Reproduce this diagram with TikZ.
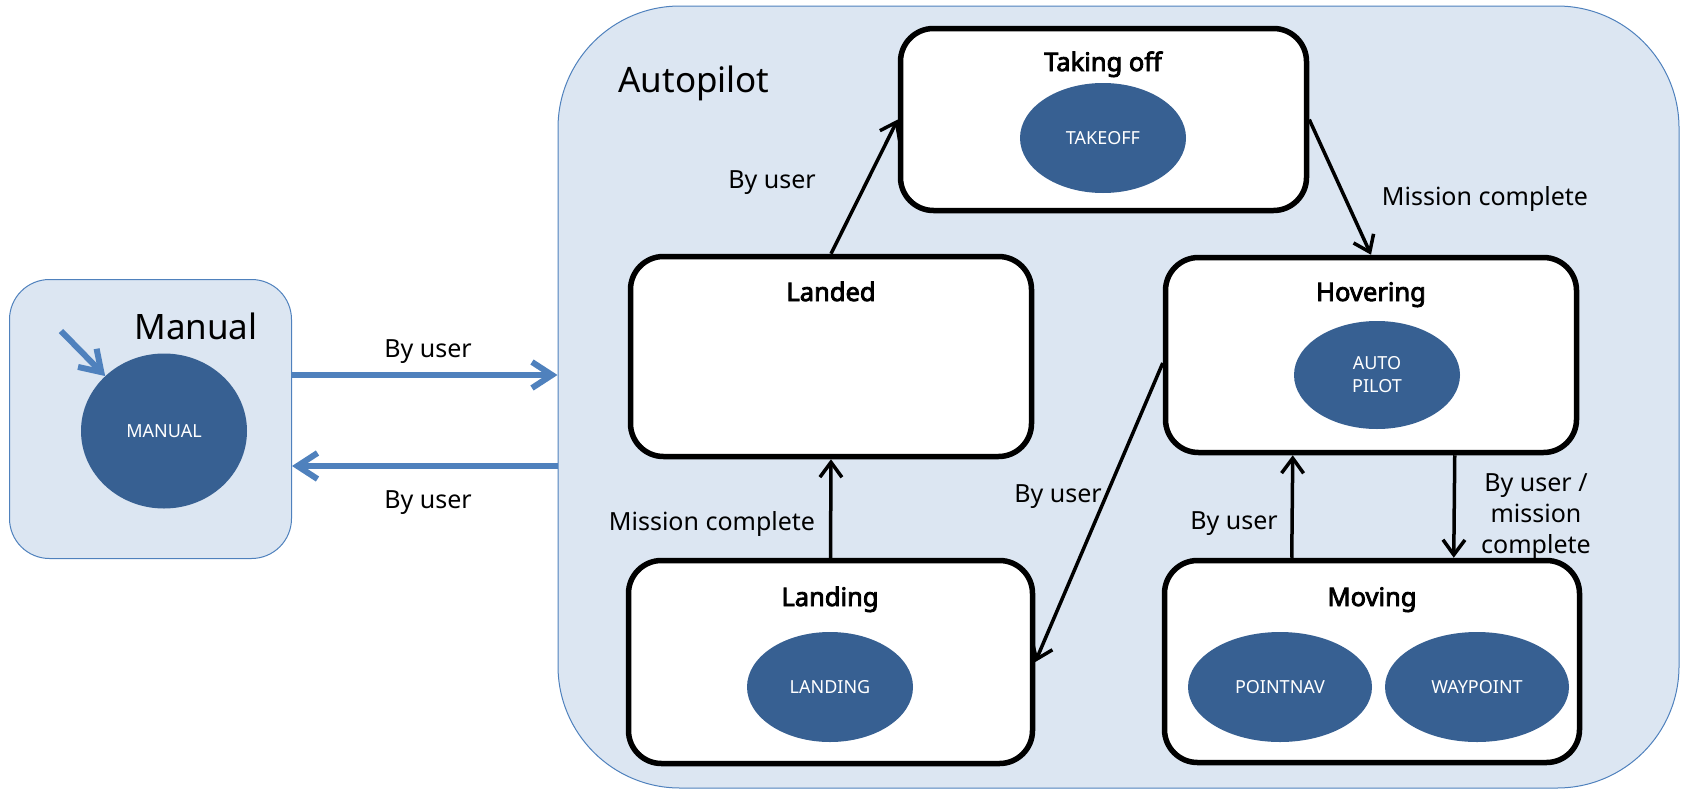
\documentclass[tikz,border=0pt]{standalone}
\usepackage{fontspec}
\setmainfont{Noto Sans}
\newfontfamily\titlefont{Noto Sans}[FakeBold=3.2]
\usetikzlibrary{shapes.geometric,arrows.meta}
\definecolor{panelfill}{HTML}{DCE6F2}
\definecolor{panelline}{HTML}{4F81BD}
\definecolor{statefill}{HTML}{376092}
\definecolor{flowblue}{HTML}{4F81BD}

\begin{document}
\begin{tikzpicture}[x=1pt,y=-1pt,
  panel/.style={draw=panelline, line width=1pt, fill=panelfill, rectangle, inner sep=0pt},
  statebox/.style={draw=black, line width=5.5pt, fill=white, rectangle, rounded corners=33pt, inner sep=0pt},
  stateshape/.style={ellipse, fill=statefill, inner sep=0pt, text=white,
    font=\fontsize{18}{23}\selectfont, align=center, minimum width=166pt, minimum height=110pt},
  boxtitle/.style={anchor=base, font=\titlefont\fontsize{25.5}{30}\selectfont, inner sep=0pt},
  cond/.style={anchor=base, font=\fontsize{25}{31}\selectfont, inner sep=0pt, align=center},
  paneltitle/.style={anchor=base, font=\fontsize{35}{42}\selectfont, inner sep=0pt},
  flow/.style={draw=black, line width=3.5pt, -{Straight Barb[length=15pt,width=22pt]}},
  modeflow/.style={draw=flowblue, line width=6pt, -{Straight Barb[length=20pt,width=26pt]}}
]
\useasboundingbox (0,0) rectangle (1683,790);

% mode panels
\node[panel, rounded corners=40pt, minimum width=282pt, minimum height=279pt] (manual) at (150.5,419) {};
\node[panel, rounded corners=122pt, minimum width=1121pt, minimum height=782pt] (autopilot) at (1118.5,397) {};
\node[paneltitle] (manualtitle) at (196,339) {Manual};
\node[paneltitle] (autotitle) at (694,92) {Autopilot};

% manual mode state
\node[stateshape, minimum width=166pt, minimum height=155pt] (mstate) at (164,431) {MANUAL};
\coordinate (init) at (61,331);
\draw[modeflow] (init) -- (mstate.north west);

% autopilot states
\node[statebox, minimum width=406pt, minimum height=182pt] (takeoff) at (1103.5,119.5) {};
\node[statebox, minimum width=401pt, minimum height=200pt] (landed) at (831,356.5) {};
\node[statebox, minimum width=411pt, minimum height=195pt] (hovering) at (1371,355) {};
\node[statebox, minimum width=404pt, minimum height=203pt] (landing) at (830.5,662) {};
\node[statebox, minimum width=415pt, minimum height=202pt] (moving) at (1372,661.5) {};

\node[boxtitle] (takeofftitle) at (1103,71) {Taking off};
\node[boxtitle] (landedtitle) at (831,301) {Landed};
\node[boxtitle] (hovertitle) at (1371,301) {Hovering};
\node[boxtitle] (landingtitle) at (830,606) {Landing};
\node[boxtitle] (movingtitle) at (1372,606) {Moving};

\node[stateshape] (stakeoff) at (1103,138) {TAKEOFF};
\node[stateshape, minimum height=108pt] (sauto) at (1377,375) {AUTO\\PILOT};
\node[stateshape] (slanding) at (830,687) {LANDING};
\node[stateshape, minimum width=184pt] (spointnav) at (1280,687) {POINTNAV};
\node[stateshape, minimum width=184pt] (swaypoint) at (1477,687) {WAYPOINT};

% mode transitions
\coordinate (toauto) at (0,375);
\coordinate (tomanual) at (0,466);
\draw[modeflow] (manual.east |- toauto) -- (autopilot.west |- toauto);
\draw[modeflow] (autopilot.west |- tomanual) -- (manual.east |- tomanual);
\node[cond] (l1) at (428,357) {By user};
\node[cond] (l2) at (428,508) {By user};

% autopilot transitions
\draw[flow] (landed.north) -- (takeoff.west);
\draw[flow] (takeoff.east) -- (hovering.north);
\draw[flow] ([yshift=-8pt]hovering.west) -- (landing.east);
\draw[flow] (landing.north) -- (landed.south);
\draw[flow] ([xshift=130pt]moving.north west) -- ([xshift=130pt]hovering.south west);
\draw[flow] ([xshift=292pt]hovering.south west) -- ([xshift=292pt]moving.north west);

\node[cond] (l3) at (772,188) {By user};
\node[cond] (l4) at (1485,205) {Mission complete};
\node[cond] (l5) at (1058,502) {By user};
\node[cond] (l6) at (712,530) {Mission complete};
\node[cond] (l7) at (1234,529) {By user};
\node[cond] (l8) at (1536,553) {By user /\\mission\\complete};
\end{tikzpicture}
\end{document}
